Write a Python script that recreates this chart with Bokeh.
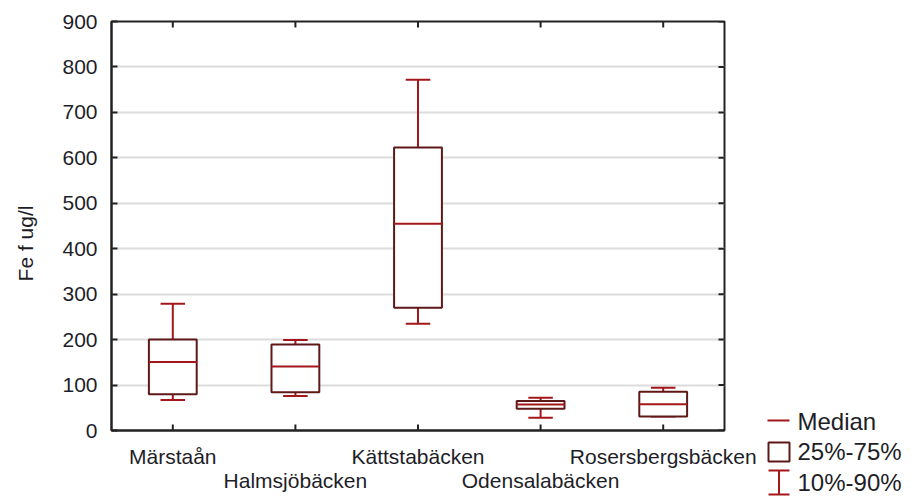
import math
from bokeh.plotting import figure
from bokeh.models import Range1d, LinearAxis, FixedTicker
from bokeh.layouts import row
from bokeh.core.properties import value
from bokeh.embed import file_html
from bokeh.resources import INLINE

# Fe (filtered), ug/l, percentiles per stream
sites = ["Märstaån", "Halmsjöbäcken", "Kättstabäcken", "Odensalabäcken", "Rosersbergsbäcken"]
p10 = [67, 76, 235, 28, 31]
p25 = [80, 84, 270, 48, 31]
median = [151, 141, 455, 57, 58]
p75 = [200, 189, 623, 65, 85]
p90 = [279, 199, 772, 72, 94]

y_ticks = [0, 100, 200, 300, 400, 500, 600, 700, 800, 900]
y_title = "Fe f ug/l"
legend_labels = ["Median", "25%-75%", "10%-90%"]

FONT = "Liberation Sans"
TEXT = "#1e1e28"
WHISK = "#a3161a"
BOX = "#5e1818"
FRAME = "#222222"

pos = list(range(1, len(sites) + 1))
box_w = 0.39
cap_half = 0.1
Y0, Y1 = 0, 900
X0, X1 = 0.5, len(sites) + 0.5
TOP = 21

p = figure(width=762, height=497, x_range=Range1d(X0, X1), y_range=Range1d(Y0, Y1),
           output_backend="svg", toolbar_location=None, x_axis_location=None,
           min_border_left=111, min_border_right=38, min_border_top=TOP, min_border_bottom=67)
p.outline_line_color = FRAME
p.outline_line_width = 2
p.background_fill_color = "white"
p.border_fill_color = "white"

# value axis (non-breaking padding nudges the centred title a little lower)
ya = p.yaxis[0]
ya.ticker = FixedTicker(ticks=y_ticks)
ya.major_tick_in = 6
ya.major_tick_out = 0
ya.minor_tick_line_color = None
ya.axis_line_color = FRAME
ya.axis_line_width = 2
ya.major_tick_line_color = FRAME
ya.major_tick_line_width = 2
ya.major_label_standoff = 14
ya.major_label_text_font = FONT
ya.major_label_text_font_size = "21px"
ya.major_label_text_color = TEXT
ya.axis_label = y_title + "\u00a0" * 6
ya.axis_label_text_font = FONT
ya.axis_label_text_font_size = "21px"
ya.axis_label_text_font_style = "normal"
ya.axis_label_text_color = TEXT
ya.axis_label_standoff = 22

# category axes: two staggered rows of names
odd = pos[0::2]
even = pos[1::2]
row1 = LinearAxis(ticker=FixedTicker(ticks=odd),
                  major_label_overrides={x: sites[x - 1] for x in odd},
                  major_tick_line_color=None, minor_tick_line_color=None,
                  axis_line_color=FRAME, axis_line_width=2, major_label_standoff=8,
                  major_label_text_font=FONT, major_label_text_font_size="21px",
                  major_label_text_color=TEXT)
row2 = LinearAxis(ticker=FixedTicker(ticks=even),
                  major_label_overrides={x: sites[x - 1] for x in even},
                  major_tick_line_color=None, minor_tick_line_color=None,
                  axis_line_color=None, major_label_standoff=-8,
                  major_label_text_font=FONT, major_label_text_font_size="21px",
                  major_label_text_color=TEXT)
p.add_layout(row1, "below")
p.add_layout(row2, "below")

p.xgrid.grid_line_color = None
p.ygrid.ticker = FixedTicker(ticks=y_ticks)
p.ygrid.grid_line_color = "#dcdcdc"
p.ygrid.grid_line_width = 2

# inward tick marks on the bottom, top and right edges (half clipped by the frame)
tick_kw = dict(marker="dash", size=12, line_color=FRAME, line_width=2)
p.scatter(x=pos, y=[Y0] * len(pos), angle=math.pi / 2, **tick_kw)
p.scatter(x=pos, y=[Y1] * len(pos), angle=math.pi / 2, **tick_kw)
p.scatter(x=[X1] * len(y_ticks), y=y_ticks, **tick_kw)

# whiskers (10th and 90th percentiles)
p.segment(x0=pos, y0=p75, x1=pos, y1=p90, line_color=WHISK, line_width=2)
p.segment(x0=pos, y0=p25, x1=pos, y1=p10, line_color=WHISK, line_width=2)
p.segment(x0=[x - cap_half for x in pos], y0=p90, x1=[x + cap_half for x in pos], y1=p90,
          line_color=WHISK, line_width=2)
p.segment(x0=[x - cap_half for x in pos], y0=p10, x1=[x + cap_half for x in pos], y1=p10,
          line_color=WHISK, line_width=2)

# interquartile boxes and medians
p.vbar(x=pos, width=box_w, bottom=p25, top=p75, fill_color="white",
       line_color=BOX, line_width=2)
p.segment(x0=[x - box_w / 2 for x in pos], y0=median, x1=[x + box_w / 2 for x in pos], y1=median,
          line_color=WHISK, line_width=2)

# key panel: its frame top lines up with the main frame,
# so the y range runs in page pixels from there down to the bottom edge
k = figure(frame_width=155, frame_height=497 - TOP, x_range=Range1d(0, 155),
           y_range=Range1d(497, TOP), title=None, output_backend="svg",
           toolbar_location=None, x_axis_location=None, y_axis_location=None,
           min_border=0, min_border_left=0, min_border_right=0,
           min_border_top=TOP, min_border_bottom=0)
k.grid.visible = False
k.outline_line_color = None
k.background_fill_color = "white"
k.border_fill_color = "white"
k.line(x=[5, 27], y=[420, 420], line_color=WHISK, line_width=2)
k.quad(left=[6], right=[27], top=[442], bottom=[461], fill_color="white",
       line_color=BOX, line_width=2)
k.segment(x0=[16.5, 6, 6], y0=[470, 470, 494], x1=[16.5, 27, 27], y1=[494, 470, 494],
          line_color=WHISK, line_width=2)
k.text(x=[35, 35, 35], y=[421, 451, 482], text=legend_labels, text_baseline="middle",
       text_font=value(FONT), text_font_size="24px", text_color=TEXT)

layout = row(p, k)
open("out.html", "w").write(file_html(layout, INLINE))
